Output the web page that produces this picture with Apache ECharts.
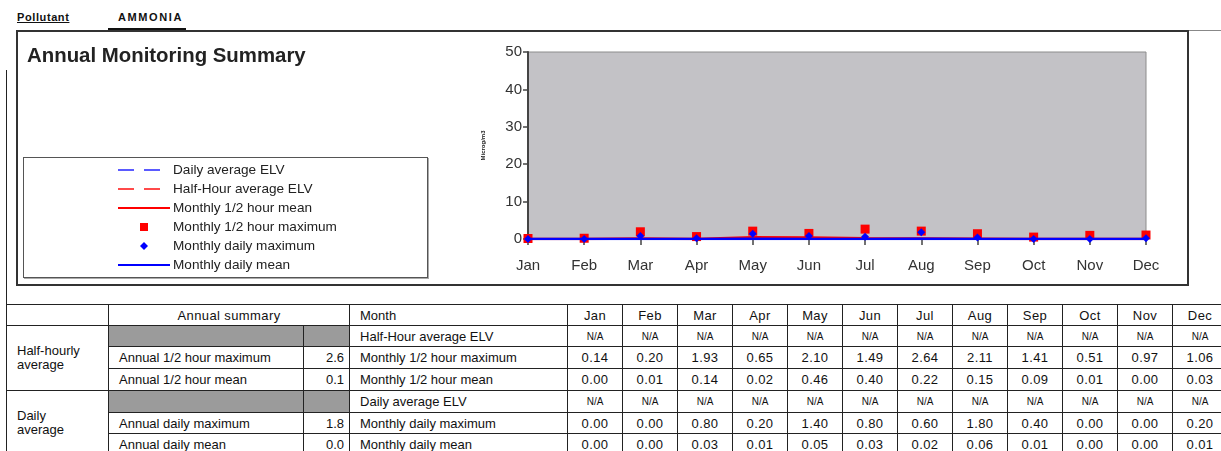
<!DOCTYPE html>
<html><head><meta charset="utf-8">
<script src="https://cdn.jsdelivr.net/npm/echarts@6/dist/echarts.min.js"></script>
<style>
html,body{margin:0;padding:0;background:#fff;}
body{width:1221px;height:451px;overflow:hidden;position:relative;font-family:'Liberation Sans',Arial,sans-serif;}
#chart{position:absolute;left:0;top:0;width:1221px;height:300px;z-index:2;}
.abs{position:absolute;}
#poll{left:17px;top:11px;font-size:11px;font-weight:bold;text-decoration:underline;color:#111;letter-spacing:0.6px;}
#pollv{left:118px;top:11px;font-size:11px;font-weight:bold;letter-spacing:1.6px;color:#111;}
#topline1{left:108px;top:28px;width:78px;height:2px;background:#111;}
#topline2{left:1187px;top:30px;width:34px;height:1px;background:#888;}
#box{left:16px;top:30px;width:1169px;height:252px;border:2px solid #333;z-index:1;}
#legbox{left:23px;top:157px;width:403px;height:119px;border:1px solid #555;box-shadow:1px 1px 0 #aaa;z-index:1;}
#vline{left:6px;top:70px;width:1px;height:240px;background:#222;}
table{position:absolute;left:6px;top:304px;border-collapse:collapse;table-layout:fixed;font-family:'Liberation Sans Narrow','Arial Narrow','Liberation Sans',Arial,sans-serif;font-size:13px;color:#111;}
td{border:1.5px solid #222;padding:0;height:20px;overflow:hidden;white-space:nowrap;}
td.c{text-align:center;letter-spacing:0.4px;}
td.r{text-align:right;padding-right:5px;}
td.l{text-align:left;padding-left:10px;}
td.g{background:#9b9b9b;}
td.na{font-size:10px;text-align:center;}
td.grp{text-align:left;padding-left:10px;white-space:normal;line-height:14px;vertical-align:middle;}
</style></head><body>
<div id="poll" class="abs">Pollutant</div>
<div id="pollv" class="abs">AMMONIA</div>
<div id="topline1" class="abs"></div>
<div id="topline2" class="abs"></div>
<div id="box" class="abs"></div>
<div id="legbox" class="abs"></div>
<div id="vline" class="abs"></div>
<div id="chart"></div>
<table id="tbl"></table>
<script>
// ---- data ----
const months = ['Jan','Feb','Mar','Apr','May','Jun','Jul','Aug','Sep','Oct','Nov','Dec'];
const tableMonths = ['Jan','Feb','Mar','Apr','May','Jun','Jul','Aug','Sep','Oct','Nov','Dec'];
const halfHourElv = ['N/A','N/A','N/A','N/A','N/A','N/A','N/A','N/A','N/A','N/A','N/A','N/A'];
const dailyElv = ['N/A','N/A','N/A','N/A','N/A','N/A','N/A','N/A','N/A','N/A','N/A','N/A'];
const halfHourMax = [0.14,0.20,1.93,0.65,2.10,1.49,2.64,2.11,1.41,0.51,0.97,1.06];
const halfHourMean = [0.00,0.01,0.14,0.02,0.46,0.40,0.22,0.15,0.09,0.01,0.00,0.03];
const dailyMax = [0.00,0.00,0.80,0.20,1.40,0.80,0.60,1.80,0.40,0.00,0.00,0.20];
const dailyMean = [0.00,0.00,0.03,0.01,0.05,0.03,0.02,0.06,0.01,0.00,0.00,0.01];
const annualHalfHourMax = 2.6;
const annualHalfHourMean = 0.1;
const annualDailyMax = 1.8;
const annualDailyMean = 0.0;
const yTicks = [0,10,20,30,40,50];

// ---- chart ----
const toChart = a => a.map(v => (v === 'N/A' ? '-' : v));
const hideSym = {opacity:0};
const chart = echarts.init(document.getElementById('chart'), null, {renderer:'canvas'});
chart.setOption({
  animation:false,
  title:{text:'Annual Monitoring Summary',left:27,top:46,padding:[0,0,0,0],textStyle:{fontFamily:'Liberation Sans, Arial',fontSize:20.4,fontWeight:'bold',color:'#222'}},
  legend:{
    orient:'vertical',left:117,top:163,padding:0,itemWidth:52,itemHeight:10,itemGap:5,
    textStyle:{fontFamily:'Liberation Sans, Arial',fontSize:13.6,color:'#222',lineHeight:12,padding:[0,0,0,-2]},
    data:[
      {name:'Daily average ELV',itemStyle:hideSym},
      {name:'Half-Hour average ELV',itemStyle:hideSym},
      {name:'Monthly 1/2 hour mean',itemStyle:hideSym},
      {name:'Monthly 1/2 hour maximum'},
      {name:'Monthly daily maximum'},
      {name:'Monthly daily mean',itemStyle:hideSym}
    ]
  },
  grid:{left:528,top:52,width:618,height:187,show:true,backgroundColor:'#c3c2c6',borderColor:'#8c8c8c',borderWidth:1},
  xAxis:{type:'category',data:months,boundaryGap:false,
    axisLine:{lineStyle:{color:'#444',width:1.5}},
    axisTick:{show:true,length:6,lineStyle:{color:'#444',width:1.5}},
    axisLabel:{margin:19,fontSize:15,color:'#333',fontFamily:'Liberation Sans, Arial'},
    splitLine:{show:false}},
  yAxis:{type:'value',min:yTicks[0],max:yTicks[yTicks.length-1],interval:10,
    name:'Microg/m3',nameLocation:'middle',nameRotate:90,nameGap:42,
    nameTextStyle:{fontSize:6,color:'#222',fontWeight:'bold'},
    axisLine:{show:true,lineStyle:{color:'#444',width:2}},
    axisTick:{show:true,length:5,lineStyle:{color:'#444',width:1.5}},
    axisLabel:{margin:6,fontSize:15,color:'#333',fontFamily:'Liberation Sans, Arial'},
    splitLine:{show:false}},
  series:[
    {name:'Daily average ELV',type:'line',data:toChart(dailyElv),symbol:'none',
     lineStyle:{color:'#5a5aff',width:1.5,type:[16,10]},itemStyle:{color:'#5a5aff'},z:1},
    {name:'Half-Hour average ELV',type:'line',data:toChart(halfHourElv),symbol:'none',
     lineStyle:{color:'#ff4a4a',width:1.2,type:[16,10]},itemStyle:{color:'#ff4a4a'},z:1},
    {name:'Monthly 1/2 hour mean',type:'line',data:halfHourMean,symbol:'none',
     lineStyle:{color:'#ff0000',width:2.5},itemStyle:{color:'#ff0000'},z:3},
    {name:'Monthly 1/2 hour maximum',type:'line',data:halfHourMax,symbol:'rect',symbolSize:9,showAllSymbol:true,
     lineStyle:{width:0,opacity:0},itemStyle:{color:'#ff0000'},z:2},
    {name:'Monthly daily maximum',type:'line',data:dailyMax,symbol:'diamond',symbolSize:8,showAllSymbol:true,
     lineStyle:{width:0,opacity:0},itemStyle:{color:'#0000ff'},z:5},
    {name:'Monthly daily mean',type:'line',data:dailyMean,symbol:'none',
     lineStyle:{color:'#0000ff',width:2.5},itemStyle:{color:'#0000ff'},z:4}
  ]
});

// ---- table ----
const colW = [102,195,46,218].concat(tableMonths.map(()=>55));
const fmt2 = v => (typeof v === 'number' ? v.toFixed(2) : v);
const rows = [];
rows.push('<tr style="height:21px"><td></td><td class="c" colspan="2">Annual summary</td><td class="l">Month</td>' + tableMonths.map(m=>'<td class="c">'+m+'</td>').join('') + '</tr>');
function monthCells(arr){ return arr.map(v => v==='N/A' ? '<td class="na">N/A</td>' : '<td class="c">'+fmt2(v)+'</td>').join(''); }
rows.push('<tr style="height:21px"><td class="grp" rowspan="3">Half-hourly<br>average</td><td class="g"></td><td class="g"></td><td class="l">Half-Hour average ELV</td>'+monthCells(halfHourElv)+'</tr>');
rows.push('<tr style="height:22px"><td class="l">Annual 1/2 hour maximum</td><td class="r">'+annualHalfHourMax.toFixed(1)+'</td><td class="l">Monthly 1/2 hour maximum</td>'+monthCells(halfHourMax)+'</tr>');
rows.push('<tr style="height:22px"><td class="l">Annual 1/2 hour mean</td><td class="r">'+annualHalfHourMean.toFixed(1)+'</td><td class="l">Monthly 1/2 hour mean</td>'+monthCells(halfHourMean)+'</tr>');
rows.push('<tr style="height:22px"><td class="grp" rowspan="3">Daily<br>average</td><td class="g"></td><td class="g"></td><td class="l">Daily average ELV</td>'+monthCells(dailyElv)+'</tr>');
rows.push('<tr style="height:21px"><td class="l">Annual daily maximum</td><td class="r">'+annualDailyMax.toFixed(1)+'</td><td class="l">Monthly daily maximum</td>'+monthCells(dailyMax)+'</tr>');
rows.push('<tr style="height:22px"><td class="l">Annual daily mean</td><td class="r">'+annualDailyMean.toFixed(1)+'</td><td class="l">Monthly daily mean</td>'+monthCells(dailyMean)+'</tr>');
const tbl = document.getElementById('tbl');
tbl.innerHTML = '<colgroup>' + colW.map(w=>'<col style="width:'+w+'px">').join('') + '</colgroup>' + rows.join('');
tbl.style.width = colW.reduce((a,b)=>a+b,0) + 'px';
</script>
</body></html>
